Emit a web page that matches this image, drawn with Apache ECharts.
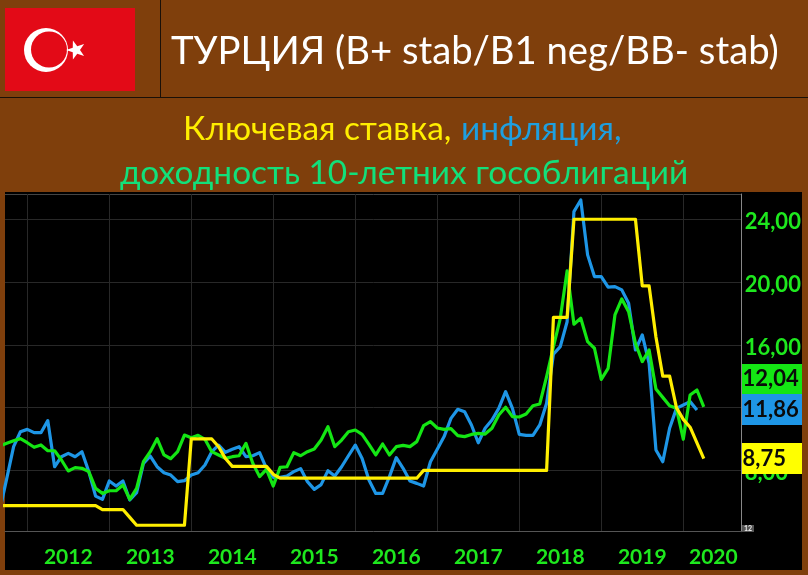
<!DOCTYPE html>
<html>
<head>
<meta charset="utf-8">
<style>
html, body { margin: 0; padding: 0; background: #7f3f0c; }
#chart { width: 808px; height: 575px; }
</style>
<script src="https://cdn.jsdelivr.net/npm/echarts@6/dist/echarts.min.js"></script>
</head>
<body>
<div id="chart"></div>
<script>
// months counted from Jan 2012 = 0, every series starts at Sep 2011
const firstMonth = -4;

const yearLabels = ["2012", "2013", "2014", "2015", "2016", "2017", "2018", "2019", "2020"];
const yearLabelPos = [6, 18, 30, 42, 54, 66, 78, 90, 100.4];
const yearLines = [0, 12, 24, 36, 48, 60, 72, 84, 96];
const yTicks = [8, 12, 16, 20, 24];

const inflation = [
	5.5, 7.49, 9.51, 10.46,
	10.61, 10.4, 10.4, 11.17, 8.23, 8.87, 9.08, 8.87, 9.19, 7.92, 6.36, 6.15,
	7.32, 7.0, 7.32, 6.11, 6.58, 8.45, 8.91, 8.23, 7.85, 7.7, 7.28, 7.34,
	7.7, 7.85, 8.34, 9.19, 9.61, 9.15, 9.34, 9.51, 8.87, 8.93, 9.13, 8.13,
	7.55, 7.55, 7.64, 7.92, 8.11, 7.28, 6.79, 7.09, 7.98, 7.64, 8.23, 8.93,
	9.61, 8.76, 7.38, 6.53, 6.53, 7.6, 8.81, 8.13, 7.32, 7.17, 7.0, 8.55,
	9.34, 10.15, 11.31, 11.89, 11.74, 10.89, 9.76, 10.68, 11.21, 11.95, 13.01, 11.95,
	10.29, 10.23, 10.23, 10.89, 12.27, 15.41, 15.88, 17.47, 24.49, 25.23, 21.73, 20.35,
	20.35, 19.67, 19.71, 19.5, 18.65, 15.67, 16.63, 14.82, 9.3, 8.55, 10.68, 11.95,
	12.16, 12.38, 11.85
];

const bond10y = [
	9.55, 9.72, 9.89, 10.02,
	9.76, 9.47, 9.62, 9.25, 9.25, 8.66, 7.96, 8.17, 8.13, 7.92, 6.85, 6.53,
	6.7, 6.7, 7.07, 6.15, 6.85, 8.55, 9.19, 10.02, 8.98, 8.74, 9.19, 10.25,
	10.08, 10.23, 9.98, 9.19, 8.98, 8.76, 8.87, 8.93, 9.72, 8.45, 7.6, 8.06,
	7.0, 8.19, 8.23, 9.13, 8.93, 9.19, 9.36, 9.93, 10.78, 9.51, 9.93, 10.46,
	10.57, 10.29, 9.66, 8.98, 9.68, 8.98, 9.51, 9.59, 9.51, 9.83, 10.85, 11.1,
	10.7, 10.61, 10.66, 10.21, 10.15, 10.29, 10.36, 10.31, 10.68, 11.53, 12.02, 11.42,
	11.4, 11.59, 12.12, 12.23, 13.97, 15.88, 17.69, 20.71, 17.31, 17.69, 16.2, 15.78,
	13.8, 14.5, 17.9, 18.92, 18.11, 16.1, 14.93, 15.67, 13.18, 12.65, 12.12, 11.95,
	9.98, 12.8, 13.12, 12.04
];

const keyRate = [
	5.75, 5.75, 5.75, 5.75,
	5.75, 5.75, 5.75, 5.75, 5.75, 5.75, 5.75, 5.75, 5.75, 5.75, 5.75, 5.5,
	5.5, 5.5, 5.5, 5.0, 4.5, 4.5, 4.5, 4.5, 4.5, 4.5, 4.5, 4.5,
	10, 10, 10, 10, 9.5, 8.75, 8.25, 8.25, 8.25, 8.25, 8.25, 8.25,
	7.75, 7.5, 7.5, 7.5, 7.5, 7.5, 7.5, 7.5, 7.5, 7.5, 7.5, 7.5,
	7.5, 7.5, 7.5, 7.5, 7.5, 7.5, 7.5, 7.5, 7.5, 7.5, 8, 8,
	8, 8, 8, 8, 8, 8, 8, 8, 8, 8, 8, 8,
	8, 8, 8, 8, 8, 17.75, 17.75, 17.75, 24, 24, 24, 24,
	24, 24, 24, 24, 24, 24, 19.75, 19.75, 16.5, 14, 14, 12,
	11.25, 10.75, 9.75, 8.75
];

const toPairs = (values) => values.map((v, i) => [firstMonth + i, v]);

const brown = "#7f3f0c";
const axisGreen = "#1ee81e";
const font = "Lato, 'Open Sans', sans-serif";

const lineSeries = (name, values, color) => ({
	name,
	type: "line",
	data: toPairs(values),
	showSymbol: false,
	symbol: "none",
	lineStyle: { color, width: 3.2, join: "round" },
	animation: false
});

const starPoints = (cx, cy, r) => {
	const pts = [];
	for (let i = 0; i < 10; i++) {
		const rad = i % 2 ? r * 0.4 : r;
		const a = Math.PI + (i * Math.PI) / 5;
		pts.push([cx + rad * Math.cos(a), cy + rad * Math.sin(a)]);
	}
	return pts;
};

const text = (x, y, str, fill, size, extra) => ({
	type: "text",
	x,
	y,
	z: 20,
	style: Object.assign({ text: str, fill, font: size + "px " + font, textAlign: "left", textVerticalAlign: "middle" }, extra)
});

const valueBox = (y, h, color, str) => [
	{ type: "rect", z: 10, shape: { x: 742, y, width: 60, height: h }, style: { fill: color } },
	text(742.5, y + h / 2, str, "#0a0a0a", 0, { font: "bold 22px " + font })
];

const chart = echarts.init(document.getElementById("chart"), null, { renderer: "canvas" });

chart.setOption({
	backgroundColor: brown,
	animation: false,
	graphic: [
		// dark panel under the plot
		{ type: "rect", z: -10, shape: { x: 5, y: 192, width: 797, height: 378 }, style: { fill: "#000" } },
		// top edge of the plot
		{ type: "line", shape: { x1: 5, y1: 194.5, x2: 742, y2: 194.5 }, style: { stroke: "#444", lineWidth: 1 } },
		// header dividers
		{ type: "line", shape: { x1: 160.5, y1: 0, x2: 160.5, y2: 97 }, style: { stroke: "#1a1008", lineWidth: 1 } },
		{ type: "line", shape: { x1: 0, y1: 97.5, x2: 808, y2: 97.5 }, style: { stroke: "#1a1008", lineWidth: 1 } },
		// flag
		{ type: "rect", shape: { x: 5, y: 8, width: 130, height: 83 }, style: { fill: "#e30a17" } },
		{ type: "circle", shape: { cx: 46, cy: 50, r: 22 }, style: { fill: "#fff" } },
		{ type: "circle", shape: { cx: 49, cy: 49.5, r: 18 }, style: { fill: "#e30a17" } },
		{ type: "polygon", shape: { points: starPoints(76, 50, 10) }, style: { fill: "#fff" } },
		// titles
		text(171, 52, "ТУРЦИЯ (B+ stab/B1 neg/BB- stab)", "#ffffff", 38.3),
		text(183, 129, "Ключевая ставка,", "#ffee00", 33.4),
		text(461, 129, "инфляция,", "#1e9fe0", 33.4),
		text(120, 173, "доходность 10-летних гособлигаций", "#12e07a", 33.4),
		// last values
		...valueBox(364, 30, "#14e614", "12,04"),
		...valueBox(394, 31, "#1e96e6", "11,86"),
		...valueBox(443, 31, "#ffff00", "8,75"),
		{ type: "rect", z: 5, shape: { x: 742, y: 525, width: 12, height: 7 }, style: { fill: "#555" } },
		text(744, 528.5, "12", "#eee", 7, { font: "bold 7px " + font })
	],
	grid: {
		left: 5,
		top: 194,
		width: 736.7,
		height: 337.7,
		show: false
	},
	xAxis: {
		type: "value",
		min: -3.26,
		max: 104.55,
		axisLine: { show: true, onZero: false, lineStyle: { color: "#555" } },
		axisTick: { show: false, customValues: yearLines },
		splitLine: { show: true, lineStyle: { color: "#282828", width: 1 } },
		axisLabel: {
			customValues: yearLabelPos,
			margin: 15,
			color: axisGreen,
			fontFamily: font,
			fontWeight: "bold",
			fontSize: 21,
			formatter: (v) => yearLabels[yearLabelPos.indexOf(v)]
		}
	},
	yAxis: {
		type: "value",
		position: "right",
		min: 4.09,
		max: 25.61,
		axisLine: { show: true, onZero: false, lineStyle: { color: "#888" } },
		axisTick: { show: false, customValues: yTicks },
		splitLine: { show: true, lineStyle: { color: "#282828", width: 1 } },
		axisLabel: {
			customValues: yTicks,
			margin: 3,
			verticalAlign: "top",
			lineHeight: 6,
			color: axisGreen,
			fontFamily: font,
			fontWeight: "bold",
			fontSize: 22,
			formatter: (v) => v.toFixed(2).replace(".", ",")
		}
	},
	series: [
		lineSeries("Инфляция", inflation, "#1e96e6"),
		lineSeries("Доходность 10-летних гособлигаций", bond10y, "#14e614"),
		lineSeries("Ключевая ставка", keyRate, "#ffee00")
	]
});
</script>
</body>
</html>
